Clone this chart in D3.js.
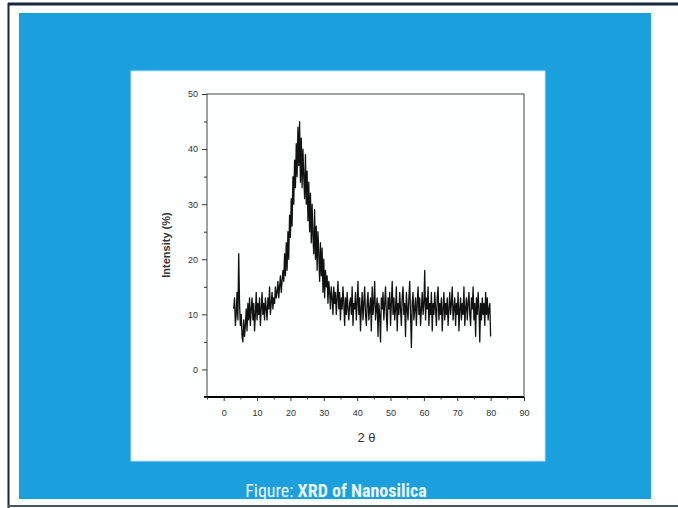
<!DOCTYPE html>
<html>
<head>
    <meta charset="utf-8">
    <title>XRD of Nanosilica</title>
    <style>
        body{ margin:0; background:#fff; }
        svg{ display:block; }
    </style>
</head>
<body>
<div id="chart"></div>
<script src="https://d3js.org/d3.v7.min.js"></script>
<script>
// 2-theta positions, every 0.25 degree from 3 to 80
var twoTheta = d3.range(3, 80.001, 0.25);

// intensity (%), 20 values per row (5 degrees)
var intensity = [
    11, 13, 8, 10, 14, 9, 21, 12, 8, 10, 6, 5, 9, 6, 8, 11, 7, 12, 9, 13,           // 3.00 - 7.75
    8, 11, 13, 9, 12, 7, 10, 14, 9, 12, 10, 13, 8, 11, 14, 10, 12, 9, 13, 11,       // 8.00 - 12.75
    9, 13, 11, 15, 10, 12, 14, 11, 13, 12, 15, 13, 14, 16, 13, 15, 17, 14, 16, 18,  // 13.00 - 17.75
    16, 21, 17, 23, 18, 25, 20, 28, 24, 31, 26, 35, 30, 38, 33, 41, 35, 44, 37, 45, // 18.00 - 22.75
    34, 42, 33, 40, 35, 31, 39, 30, 36, 27, 34, 25, 32, 23, 30, 24, 21, 29, 20, 26, // 23.00 - 27.75
    18, 25, 21, 16, 23, 17, 22, 14, 20, 13, 18, 15, 17, 12, 16, 14, 11, 15, 13, 10, // 28.00 - 32.75
    15, 12, 14, 10, 13, 16, 11, 14, 9, 13, 11, 15, 12, 8, 13, 10, 14, 11, 9, 12,    // 33.00 - 37.75
    13, 10, 15, 8, 12, 11, 14, 9, 12, 16, 10, 13, 7, 11, 14, 9, 12, 15, 10, 8,      // 38.00 - 42.75
    12, 14, 9, 11, 13, 7, 15, 10, 12, 16, 9, 11, 13, 6, 12, 10, 5, 13, 11, 14,      // 43.00 - 47.75
    9, 12, 15, 10, 7, 13, 11, 14, 8, 12, 16, 10, 13, 9, 11, 15, 7, 12, 10, 14,      // 48.00 - 52.75
    11, 8, 13, 15, 10, 12, 6, 14, 11, 9, 13, 16, 10, 4, 12, 14, 9, 11, 13, 8,       // 53.00 - 57.75
    12, 15, 10, 13, 8, 11, 14, 10, 12, 18, 9, 13, 11, 15, 8, 12, 10, 14, 7, 12,     // 58.00 - 62.75
    10, 14, 11, 8, 13, 15, 9, 12, 10, 13, 7, 11, 14, 9, 12, 10, 13, 8, 11, 14,      // 63.00 - 67.75
    10, 12, 15, 9, 11, 13, 8, 12, 10, 14, 7, 11, 13, 9, 12, 10, 15, 8, 11, 13,      // 68.00 - 72.75
    9, 12, 14, 10, 8, 13, 11, 15, 9, 12, 6, 13, 10, 14, 11, 5, 12, 9, 13, 10,       // 73.00 - 77.75
    12, 8, 14, 10, 13, 9, 11, 12, 6                                                 // 78.00 - 80.00
];

var xTicks = [0, 10, 20, 30, 40, 50, 60, 70, 80, 90];
var yTicks = [0, 10, 20, 30, 40, 50];
var xMinor = [-5, 5, 15, 25, 35, 45, 55, 65, 75, 85];
var yMinor = [-5, 5, 15, 25, 35, 45];

var data = twoTheta.map(function(t, i){ return {t: t, v: intensity[i]}; });

var W = 678, H = 508;
var svg = d3.select("#chart").append("svg")
    .attr("width", W)
    .attr("height", H);

// slide frame
svg.append("rect").attr("x", 0).attr("y", 0).attr("width", W).attr("height", H).attr("fill", "#fff");
svg.append("line").attr("x1", 8).attr("x2", W).attr("y1", 4).attr("y2", 4)
    .attr("stroke", "#17263b").attr("stroke-width", 3);
svg.append("line").attr("x1", 8.5).attr("x2", 8.5).attr("y1", 3).attr("y2", H)
    .attr("stroke", "#17263b").attr("stroke-width", 2);
svg.append("line").attr("x1", 8).attr("x2", W).attr("y1", 506).attr("y2", 506)
    .attr("stroke", "#4a5560").attr("stroke-width", 2);

// blue slide background
svg.append("rect").attr("x", 19).attr("y", 13).attr("width", 632).attr("height", 486)
    .attr("fill", "#1c9fdd");

// white picture panel
svg.append("rect").attr("x", 131).attr("y", 71).attr("width", 414).attr("height", 390)
    .attr("fill", "#fdfefe").attr("stroke", "#bfe3f5").attr("stroke-width", 1);

var plotL = 207, plotR = 524, plotT = 94, plotB = 397;

var x = d3.scaleLinear().domain([-5, 90]).range([plotL, plotR]);
var y = d3.scaleLinear().domain([-5, 50]).range([plotB, plotT]);

var g = svg.append("g").style("font-family", "Arial, 'Liberation Sans', sans-serif");

// box
g.append("rect").attr("x", plotL).attr("y", plotT)
    .attr("width", plotR - plotL).attr("height", plotB - plotT)
    .attr("fill", "none").attr("stroke", "#444").attr("stroke-width", 1);

// x axis
var xAxis = g.append("g").attr("transform", "translate(0," + plotB + ")")
    .call(d3.axisBottom(x).tickValues(xTicks).tickSize(4).tickPadding(9));
g.append("g").attr("transform", "translate(0," + plotB + ")")
    .call(d3.axisBottom(x).tickValues(xMinor).tickSize(2.5).tickFormat(""))
    .select(".domain").remove();
xAxis.select(".domain").attr("d", "M" + (plotL - 3) + ",0H" + plotR).attr("stroke-width", 2);

// y axis
var yAxis = g.append("g").attr("transform", "translate(" + plotL + ",0)")
    .call(d3.axisLeft(y).tickValues(yTicks).tickSize(5).tickPadding(4));
g.append("g").attr("transform", "translate(" + plotL + ",0)")
    .call(d3.axisLeft(y).tickValues(yMinor).tickSize(3).tickFormat(""))
    .select(".domain").remove();
yAxis.select(".domain").remove();

g.selectAll(".tick line").attr("stroke", "#333");
g.selectAll(".tick text").attr("fill", "#333").style("font-size", "9px");

// axis titles
g.append("text")
    .attr("x", (plotL + plotR) / 2 + 1).attr("y", 442)
    .attr("text-anchor", "middle")
    .attr("fill", "#333")
    .style("font-size", "13px")
    .text("2 θ");

g.append("text")
    .attr("transform", "translate(170,245) rotate(-90)")
    .attr("text-anchor", "middle")
    .attr("fill", "#333")
    .style("font-size", "11px")
    .style("font-weight", "bold")
    .text("Intensity (%)");

// XRD trace
var line = d3.line()
    .x(function(d){ return x(d.t); })
    .y(function(d){ return y(d.v); });

g.append("path")
    .datum(data)
    .attr("d", line)
    .attr("fill", "none")
    .attr("stroke", "#111")
    .attr("stroke-width", 1.3)
    .attr("stroke-linejoin", "round");

// caption
var cap = svg.append("text")
    .attr("x", 336).attr("y", 497)
    .attr("text-anchor", "middle")
    .attr("fill", "#eef7fc")
    .style("font-family", "'Liberation Sans Narrow', 'Arial Narrow', 'Roboto Condensed', sans-serif")
    .style("font-size", "18px");
cap.append("tspan").text("Figure: ");
cap.append("tspan").style("font-weight", "bold").text("XRD of Nanosilica");
</script>
</body>
</html>
